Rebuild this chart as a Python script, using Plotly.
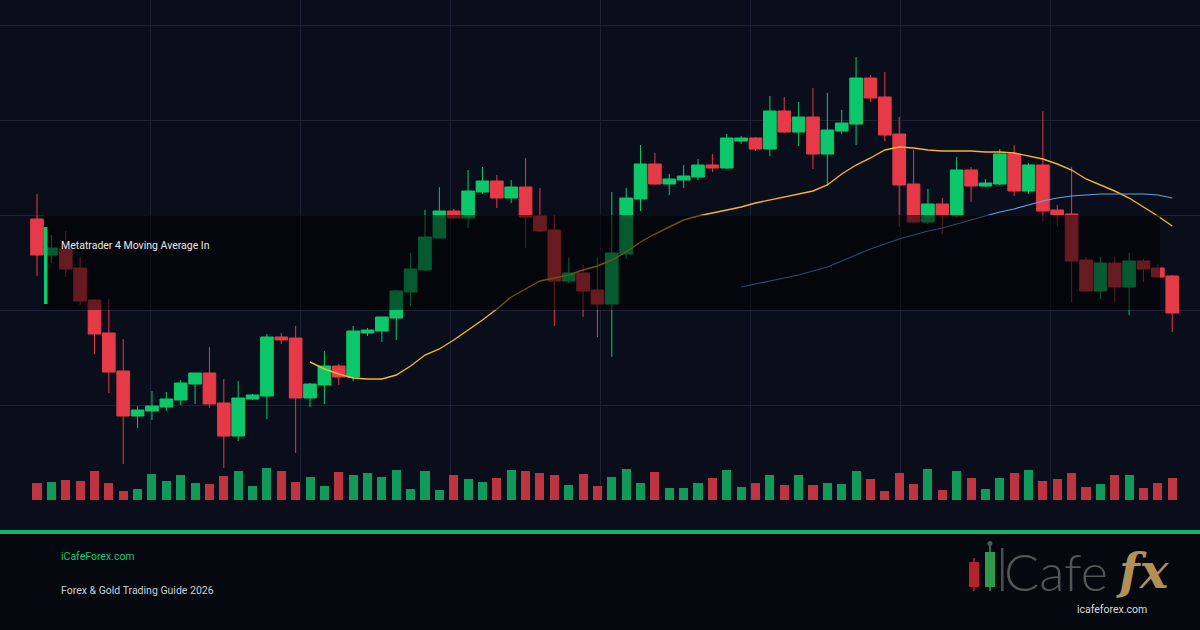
import plotly.graph_objects as go

# ---------------- data ----------------
bar_index = list(range(80))

open_ = [2281, 2245, 2251, 2232, 2200, 2167, 2129, 2084, 2089, 2093,
         2100, 2116, 2127, 2097, 2064, 2101, 2104, 2163, 2162, 2102,
         2115, 2134, 2123, 2167, 2169, 2182, 2208, 2230, 2262, 2289,
         2282, 2308, 2319, 2302, 2313, 2284, 2270, 2219, 2227, 2210,
         2196, 2246, 2301, 2336, 2316, 2320, 2323, 2335, 2332, 2359,
         2362, 2351, 2389, 2368, 2383, 2346, 2369, 2376, 2422, 2403,
         2366, 2316, 2278, 2296, 2285, 2330, 2314, 2316, 2346, 2309,
         2335, 2290, 2286, 2240, 2209, 2237, 2213, 2239, 2232, 2224]
high = [2306, 2265, 2269, 2243, 2201, 2201, 2161, 2094, 2109, 2108,
        2120, 2127, 2153, 2121, 2119, 2106, 2166, 2167, 2174, 2117,
        2149, 2136, 2174, 2172, 2183, 2210, 2247, 2290, 2313, 2291,
        2330, 2333, 2325, 2320, 2342, 2312, 2285, 2242, 2235, 2243,
        2308, 2312, 2355, 2347, 2326, 2335, 2341, 2346, 2366, 2364,
        2363, 2404, 2403, 2398, 2412, 2407, 2390, 2443, 2425, 2428,
        2383, 2350, 2311, 2302, 2343, 2333, 2321, 2351, 2355, 2337,
        2389, 2295, 2333, 2243, 2243, 2243, 2247, 2241, 2236, 2225]
low = [2224, 2237, 2223, 2195, 2146, 2107, 2036, 2072, 2080, 2089,
       2095, 2096, 2092, 2032, 2059, 2100, 2081, 2156, 2047, 2093,
       2096, 2115, 2119, 2164, 2158, 2160, 2194, 2229, 2262, 2281,
       2272, 2306, 2292, 2297, 2252, 2268, 2174, 2217, 2183, 2163,
       2143, 2241, 2289, 2315, 2305, 2312, 2320, 2328, 2331, 2356,
       2349, 2344, 2367, 2354, 2331, 2314, 2366, 2355, 2398, 2359,
       2273, 2277, 2276, 2266, 2283, 2298, 2313, 2315, 2304, 2306,
       2279, 2274, 2198, 2208, 2201, 2198, 2185, 2218, 2222, 2168]
close = [2245, 2252, 2231, 2199, 2166, 2128, 2084, 2090, 2094, 2101,
         2117, 2127, 2096, 2064, 2102, 2105, 2163, 2160, 2102, 2116,
         2134, 2123, 2169, 2170, 2183, 2209, 2231, 2263, 2289, 2282,
         2309, 2319, 2302, 2313, 2283, 2269, 2219, 2227, 2209, 2196,
         2247, 2302, 2336, 2316, 2321, 2324, 2335, 2332, 2362, 2362,
         2351, 2389, 2368, 2383, 2346, 2370, 2377, 2422, 2402, 2365,
         2315, 2278, 2296, 2285, 2330, 2314, 2317, 2346, 2309, 2335,
         2289, 2285, 2239, 2209, 2237, 2213, 2239, 2231, 2223, 2187]
volume = [1700, 1800, 2000, 1900, 2900, 1700, 900, 1100, 2600, 1900,
          2500, 1700, 1600, 2400, 2900, 1400, 3200, 2900, 1800, 2300,
          1400, 2800, 2500, 2700, 2300, 3000, 1100, 2900, 1000, 2500,
          2100, 1800, 2200, 3000, 2900, 2700, 2500, 1500, 2600, 1400,
          2300, 3100, 1700, 2800, 1200, 1200, 1700, 2200, 3000, 1300,
          1700, 2500, 1500, 2500, 1500, 1700, 1600, 2900, 2100, 900,
          2700, 1600, 3100, 1000, 2900, 2200, 1100, 2200, 2700, 3000,
          1900, 2100, 2700, 1300, 1600, 2500, 2500, 1200, 1700, 2200]

ma20_index = list(range(19, 80))
ma20 = [2138, 2131, 2126, 2122, 2121, 2121, 2125, 2134, 2145, 2151,
        2160, 2170, 2180, 2191, 2203, 2211, 2219, 2222, 2225, 2230,
        2234, 2240, 2248, 2258, 2266, 2273, 2280, 2284, 2287, 2290,
        2293, 2297, 2300, 2303, 2306, 2309, 2315, 2326, 2335, 2342,
        2350, 2353, 2352, 2350, 2349, 2349, 2349, 2348, 2348, 2347,
        2344, 2341, 2336, 2330, 2321, 2315, 2309, 2302, 2293, 2284,
        2274]
ma50_index = list(range(49, 80))
ma50 = [2213, 2216, 2219, 2222, 2225, 2229, 2233, 2239, 2245, 2251,
        2256, 2261, 2265, 2269, 2272, 2276, 2280, 2284, 2288, 2291,
        2295, 2299, 2302, 2304, 2305, 2306, 2306, 2306, 2306, 2305,
        2302]

title_text = "Metatrader 4 Moving Average In"
site_text = "iCafeForex.com"
subtitle_text = "Forex & Gold Trading Guide 2026"

# ---------------- styles ----------------
UP = "#0cc86b"
DOWN = "#e63a49"
VOL_UP = "#11985b"
VOL_DOWN = "#bd3540"
BG = "#0a0e1a"
FOOT = "#05080f"
GRID = "#1d2335"

W, H = 1200, 630
PLOT_H = 500


def px(xp):
    return xp / W


def py(yp):
    return (PLOT_H - yp) / PLOT_H


vol_colors = [VOL_UP if c >= o else VOL_DOWN for o, c in zip(open_, close)]

fig = go.Figure()

fig.add_trace(go.Bar(
    x=bar_index, y=volume, yaxis="y2", width=0.63,
    marker=dict(color=vol_colors, line=dict(width=0)),
    hoverinfo="skip", showlegend=False))

fig.add_trace(go.Candlestick(
    x=bar_index, open=open_, high=high, low=low, close=close,
    increasing=dict(line=dict(color=UP, width=1), fillcolor=UP),
    decreasing=dict(line=dict(color=DOWN, width=1), fillcolor=DOWN),
    whiskerwidth=0, showlegend=False))

fig.add_trace(go.Scatter(
    x=ma20_index, y=ma20, mode="lines",
    line=dict(color="#f2b630", width=1.4), showlegend=False, hoverinfo="skip"))
fig.add_trace(go.Scatter(
    x=ma50_index, y=ma50, mode="lines",
    line=dict(color="#6a9fe2", width=1.2), showlegend=False, hoverinfo="skip"))

shapes = [
    # dim panel behind the title
    dict(type="rect", xref="paper", yref="paper", x0=px(44), x1=px(1160),
         y0=py(310), y1=py(215), fillcolor="rgba(0,0,0,0.55)",
         line=dict(width=0), layer="above"),
    # accent bar
    dict(type="rect", xref="paper", yref="paper", x0=px(44), x1=px(47.5),
         y0=py(304), y1=py(227), fillcolor=UP, line=dict(width=0), layer="above"),
    # footer background
    dict(type="rect", xref="paper", yref="paper", x0=0, x1=1,
         y0=py(630), y1=py(534), fillcolor=FOOT, line=dict(width=0), layer="above"),
    # green stripe
    dict(type="rect", xref="paper", yref="paper", x0=0, x1=1,
         y0=py(534), y1=py(530), fillcolor="#10b76a", line=dict(width=0), layer="above"),
    # logo: red candle
    dict(type="line", xref="paper", yref="paper", x0=px(974), x1=px(974),
         y0=py(591), y1=py(558), line=dict(color="#b3242a", width=1.5), layer="above"),
    dict(type="rect", xref="paper", yref="paper", x0=px(969), x1=px(979),
         y0=py(587), y1=py(562), fillcolor="#b3242a", line=dict(width=0), layer="above"),
    # logo: green candle
    dict(type="line", xref="paper", yref="paper", x0=px(990), x1=px(990),
         y0=py(591), y1=py(543), line=dict(color="#2f9a4c", width=1.5), layer="above"),
    dict(type="rect", xref="paper", yref="paper", x0=px(985), x1=px(995),
         y0=py(587), y1=py(552), fillcolor="#2f9a4c", line=dict(width=0), layer="above"),
    dict(type="circle", xref="paper", yref="paper", x0=px(987.5), x1=px(992.5),
         y0=py(546), y1=py(541), fillcolor="#555555", line=dict(width=0), layer="above"),
    # logo: "I"
    dict(type="rect", xref="paper", yref="paper", x0=px(1001), x1=px(1003.5),
         y0=py(591), y1=py(548), fillcolor="#4e4e4e", line=dict(width=0), layer="above"),
]

annotations = [
    dict(text=title_text, xref="paper", yref="paper", x=px(59), y=py(245),
         xanchor="left", yanchor="middle", showarrow=False,
         font=dict(family="Roboto", size=10.5, color="#e9e9e9")),
    dict(text=site_text, xref="paper", yref="paper", x=px(59), y=py(556),
         xanchor="left", yanchor="middle", showarrow=False,
         font=dict(family="Roboto", size=10.5, color="#1fc27a")),
    dict(text=subtitle_text, xref="paper", yref="paper", x=px(59), y=py(590),
         xanchor="left", yanchor="middle", showarrow=False,
         font=dict(family="Roboto", size=10.5, color="#cfd1d6")),
    dict(text="Cafe", xref="paper", yref="paper", x=px(1002), y=py(571),
         xanchor="left", yanchor="middle", showarrow=False,
         font=dict(family="Lato", size=52, color="#555555", weight=300)),
    dict(text="<b><i>fx</i></b>", xref="paper", yref="paper", x=px(1172), y=py(571),
         xanchor="right", yanchor="middle", showarrow=False,
         font=dict(family="DejaVu Serif", size=48, color="#b39156")),
    dict(text="icafeforex.com", xref="paper", yref="paper", x=px(1112), y=py(609),
         xanchor="center", yanchor="middle", showarrow=False,
         font=dict(family="Roboto", size=10.5, color="#dcdcdc")),
]

x_lo = -37 / 14.37
x_hi = (W - 37) / 14.37

fig.update_layout(
    width=W, height=H,
    margin=dict(l=0, r=0, t=0, b=H - PLOT_H, pad=0),
    paper_bgcolor=BG, plot_bgcolor=BG,
    showlegend=False, boxgap=0.12, boxgroupgap=0,
    bargap=0,
    xaxis=dict(range=[x_lo, x_hi], showgrid=True, gridcolor=GRID, gridwidth=1,
               tick0=(150 - 37) / 14.37, dtick=150 / 14.37,
               showticklabels=False, ticks="", zeroline=False, showline=False,
               rangeslider=dict(visible=False), fixedrange=True),
    yaxis=dict(range=[2000, 2500], showgrid=True, gridcolor=GRID, gridwidth=1,
               tick0=2000, dtick=95, showticklabels=False, ticks="",
               zeroline=False, showline=False),
    yaxis2=dict(range=[0, 50000], overlaying="y", visible=False, showgrid=False),
    shapes=shapes, annotations=annotations,
)

fig.write_html("out.html")
